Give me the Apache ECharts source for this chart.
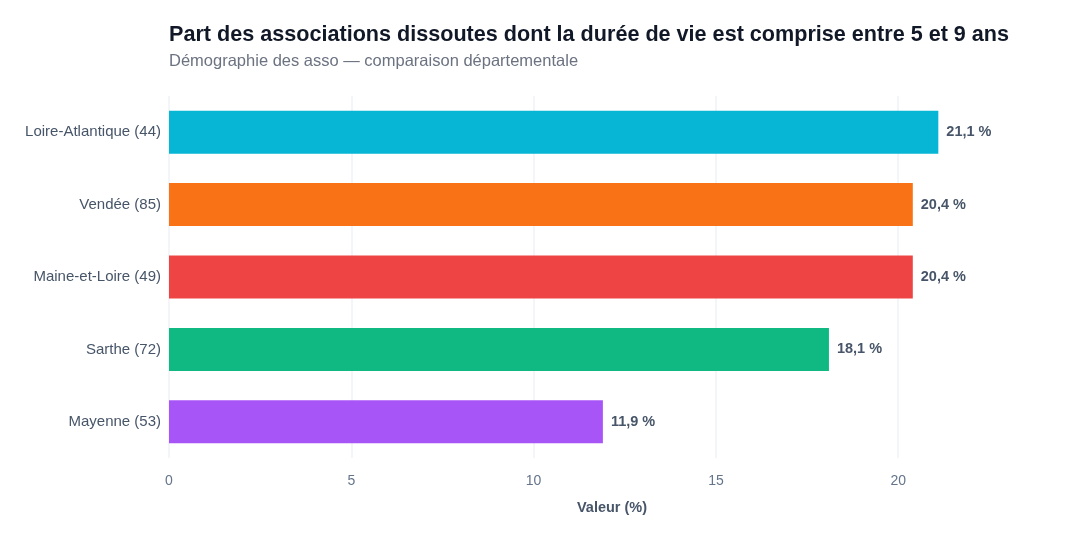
<!DOCTYPE html>
<html>
<head>
<meta charset="utf-8">
<script src="https://cdn.jsdelivr.net/npm/echarts@6/dist/echarts.min.js"></script>
<style>
  html, body { margin: 0; padding: 0; background: #fff; }
  #chart { width: 1080px; height: 540px; }
</style>
</head>
<body>
<div id="chart"></div>
<script>
const departements = ['Loire-Atlantique (44)', 'Vendée (85)', 'Maine-et-Loire (49)', 'Sarthe (72)', 'Mayenne (53)'];
const valeurs = [21.1, 20.4, 20.4, 18.1, 11.9];
const couleurs = ['#06b6d4', '#f97316', '#ef4444', '#10b981', '#a855f7'];

const font = '"Liberation Sans", Arial, sans-serif';
const chart = echarts.init(document.getElementById('chart'));

chart.setOption({
  animation: false,
  textStyle: { fontFamily: font },
  title: {
    text: 'Part des associations dissoutes dont la durée de vie est comprise entre 5 et 9 ans',
    subtext: 'Démographie des asso — comparaison départementale',
    left: 169,
    top: 24,
    padding: 0,
    itemGap: 7,
    textStyle: { fontSize: 21.6, fontWeight: 'bold', color: '#111827', fontFamily: font },
    subtextStyle: { fontSize: 16.5, color: '#6b7280', fontFamily: font }
  },
  grid: { left: 169, right: 25, top: 96, bottom: 82 },
  xAxis: {
    type: 'value',
    min: 0,
    max: 24.3,
    interval: 5,
    name: 'Valeur (%)',
    nameLocation: 'middle',
    nameGap: 42,
    nameTextStyle: { fontSize: 14.5, fontWeight: 'bold', color: '#475569' },
    axisLine: { show: false },
    axisTick: { show: false },
    axisLabel: { fontSize: 14, color: '#64748b', margin: 16, showMaxLabel: false },
    splitLine: { show: true, showMaxLine: false, lineStyle: { color: '#eff2f6', width: 1.5 } }
  },
  yAxis: {
    type: 'category',
    data: departements,
    inverse: true,
    axisLine: { show: false },
    axisTick: { show: false },
    axisLabel: { fontSize: 15, color: '#475569', margin: 8 }
  },
  series: [{
    type: 'bar',
    barWidth: 43,
    data: valeurs.map((v, i) => ({ value: v, itemStyle: { color: couleurs[i] } })),
    label: {
      show: true,
      position: 'right',
      distance: 8,
      fontSize: 14.5,
      fontWeight: 'bold',
      color: '#475569',
      formatter: p => p.value.toFixed(1).replace('.', ',') + ' %'
    }
  }]
});
</script>
</body>
</html>
